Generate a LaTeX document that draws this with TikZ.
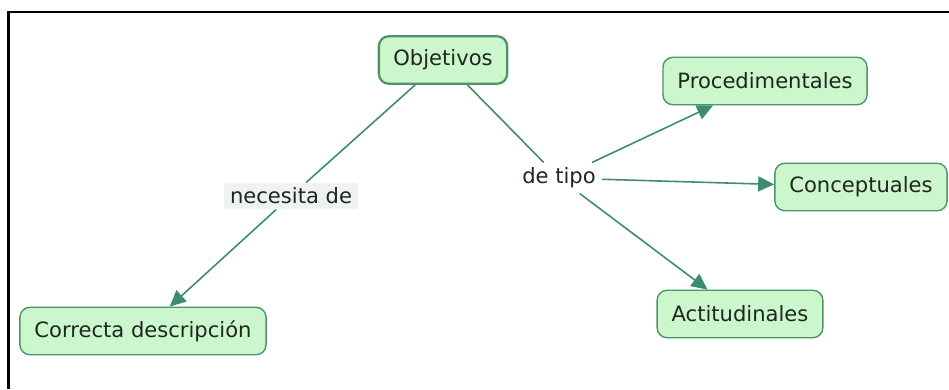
\documentclass[tikz,border=0pt]{standalone}
\usepackage{fontspec}
\setmainfont{DejaVu Sans}
\usetikzlibrary{arrows.meta}

\definecolor{conceptfill}{HTML}{CCF7CC}
\definecolor{conceptedge}{HTML}{4E9468}
\definecolor{linkgreen}{HTML}{3D8C6C}
\definecolor{labelfill}{HTML}{EFF2F2}
\definecolor{inktext}{HTML}{1E261E}

\tikzset{
	concept/.style={draw=conceptedge, fill=conceptfill, text=inktext, rounded corners=0.2cm, line width=0.8pt, minimum height=0.95cm, inner xsep=0.29cm, font=\fontsize{12}{14}\selectfont},
	linkword/.style={inner xsep=0.12cm, inner ysep=0.1cm, text=inktext, font=\fontsize{12}{14}\selectfont},
	link/.style={draw=linkgreen, line width=0.9pt},
	arrowlink/.style={link, -{Triangle[length=0.32cm, width=0.3cm]}}
}

\begin{document}
\begin{tikzpicture}[x=0.02cm,y=-0.02cm]
		\useasboundingbox (0,0) rectangle (949,389);
		
		%frame
		\draw[line width=1.2pt] (949,12) -- (8.5,12) -- (8.5,389);
		
		%concepts
		\node[concept, line width=1.3pt] (obj) at (443,60) {Objetivos};
		\node[concept] (proc) at (765,81) {Procedimentales};
		\node[concept] (conc) at (861,187) {Conceptuales};
		\node[concept] (act) at (740,314) {Actitudinales};
		\node[concept] (desc) at (143,331) {Correcta descripción};
		
		%linking words
		\node[linkword, fill=labelfill] (nec) at (291,196) {necesita de};
		\node[linkword] (tipo) at (559,178) {de tipo};
		
		%connectors
		\draw[link] (obj) -- (nec);
		\draw[arrowlink] (nec) -- (desc);
		\draw[link] (obj) -- (tipo);
		\draw[arrowlink] (tipo) -- (proc);
		\draw[arrowlink] (tipo) -- (conc);
		\draw[arrowlink] (tipo) -- (act);
		
\end{tikzpicture}
\end{document}
